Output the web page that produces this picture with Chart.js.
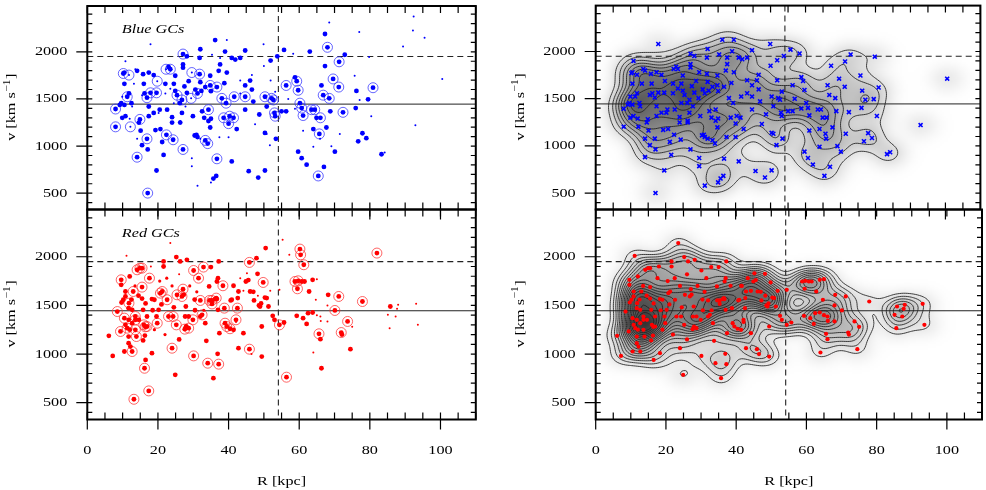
<!DOCTYPE html>
<html>
<head>
<meta charset="utf-8">
<title>GC velocities</title>
<script src="https://cdn.jsdelivr.net/npm/chart.js@4.4.1/dist/chart.umd.min.js"></script>
<style>
html, body { margin: 0; padding: 0; background: #fff; }
#wrap { position: relative; width: 986px; height: 490px; overflow: hidden; }
#wrap canvas { position: absolute; left: 0; top: 0; }
</style>
</head>
<body>
<div id="wrap">
  <canvas id="cTL" width="986" height="490"></canvas>
  <canvas id="cBL" width="986" height="490"></canvas>
  <canvas id="cTR" width="986" height="490"></canvas>
  <canvas id="cBR" width="986" height="490"></canvas>
</div>
<script>
/* axis ranges and tick labels */
var rRange = [0, 110];
var vRange = [327, 2486];
var rTickLabels = [0, 20, 40, 60, 80, 100];
var vTickLabels = [500, 1000, 1500, 2000];

/* reference values: systemic velocity, high-velocity cut, radius cut */
var vSys = 1445;
var vCut = 1950;
var rCut = 54.1;

/* Blue GCs: radius [kpc], velocity [km/s], quality class (1 tiny .. 4 ringed, 5 ringed faint) */
var blueR = [
    8.0, 8.0, 9.6, 9.2, 10.2, 10.5, 9.9, 10.8, 10.5, 11.8,
    11.3, 11.8, 10.5, 10.8, 12.2, 12.0, 12.5, 13.6, 14.1, 14.9,
    14.6, 14.1, 15.1, 15.5, 15.8, 16.0, 16.2, 16.9, 17.9, 17.4,
    16.9, 17.1, 17.1, 17.4, 17.4, 17.9, 18.8, 18.8, 19.3, 19.6,
    19.8, 19.6, 20.5, 20.7, 21.2, 21.6, 22.1, 22.3, 22.4, 23.0,
    23.5, 22.6, 24.0, 24.0, 24.3, 24.9, 25.4, 26.8, 27.1, 27.1,
    27.1, 26.8, 26.3, 28.2, 28.7, 29.6, 29.4, 29.9, 30.9, 31.2,
    31.8, 31.2, 32.0, 31.8, 32.5, 33.1, 33.4, 34.1, 34.3, 34.8,
    34.8, 35.0, 35.7, 36.2, 36.5, 36.7, 36.7, 37.2, 37.6, 38.1,
    38.6, 38.8, 39.0, 39.3, 39.5, 40.0, 40.3, 40.9, 40.9, 41.4,
    41.6, 41.9, 43.3, 44.7, 44.7, 44.7, 44.7, 45.7, 46.1, 47.0,
    46.6, 48.4, 48.7, 50.3, 50.3, 50.3, 50.8, 51.9, 52.2, 52.7,
    53.0, 53.2, 53.4, 53.8, 55.0, 55.7, 56.3, 56.3, 58.8, 59.3,
    59.7, 60.2, 60.7, 61.1, 59.7, 60.7, 62.1, 63.0, 63.5, 64.4,
    64.0, 64.9, 65.4, 65.7, 66.0, 66.3, 66.8, 67.3, 67.0, 67.3,
    68.0, 67.7, 68.5, 68.8, 69.6, 70.1, 71.3, 71.2, 72.9, 72.4,
    76.2, 76.0, 76.7, 77.9, 79.5, 79.0, 80.9, 83.3, 84.2, 89.4,
    92.2, 92.4, 95.5, 92.9, 100.5, 68.5, 77.0, 79.8, 75.7, 77.1,
    80.4, 71.5, 69.1, 65.9, 64.0, 61.1, 58.8, 56.9, 58.3, 49.9,
    50.0, 51.9, 53.2, 47.5, 51.7, 50.8, 43.3, 46.6, 40.0, 37.4,
    43.3, 39.5, 37.6, 35.3, 32.0, 29.6, 29.6, 27.8, 26.3, 24.5,
    23.5, 22.1, 20.2, 15.5, 14.1, 13.2, 12.7, 9.9, 24.5, 24.9,
    27.1, 27.5, 28.2, 26.2, 30.6, 32.0, 32.3, 33.4, 35.0, 34.3,
    34.8, 42.3, 30.4, 31.2, 35.0
];
var blueV = [
    1393, 1204, 1455, 1437, 1770, 1780, 1300, 1317, 1660, 1753,
    1523, 1558, 1437, 1900, 1204, 1290, 1455, 1815, 1798, 1283,
    1249, 882, 1163, 1009, 1763, 1660, 1558, 1513, 1565, 1780,
    1077, 964, 501, 1317, 1420, 2079, 1753, 1352, 1170, 741,
    1688, 1565, 1386, 1180, 1043, 906, 1660, 1815, 1119, 1839,
    1815, 1386, 1249, 1307, 1067, 1746, 1540, 1489, 1866, 1976,
    964, 1352, 1249, 1952, 1688, 1780, 1506, 1317, 1119, 1558,
    1763, 580, 2027, 1935, 1369, 1300, 1060, 1026, 1386, 1746,
    1643, 614, 655, 2124, 683, 865, 1626, 1798, 1866, 1506,
    1300, 1667, 2003, 1455, 1780, 1238, 1317, 837, 1935, 1300,
    1523, 1918, 1935, 1523, 1643, 2014, 1386, 734, 1695, 1472,
    1599, 666, 1335, 1523, 1139, 741, 1420, 1907, 1506, 1489,
    1352, 1317, 1077, 1952, 1369, 2020, 1369, 1643, 1729, 1688,
    1592, 1455, 1403, 1324, 940, 872, 803, 2003, 1386, 1386,
    1180, 1300, 683, 1129, 1300, 1643, 1540, 1849, 779, 2189,
    2048, 1197, 1506, 1369, 1712, 940, 1894, 1626, 1969, 1358,
    1585, 1403, 1050, 1136, 1496, 1084, 1619, 913, 933, 2055,
    2226, 2374, 2148, 1221, 1712, 2312, 2209, 1945, 1746, 1489,
    1317, 1129, 998, 1077, 992, 1163, 1396, 1499, 1979, 2079,
    1849, 1695, 1575, 1232, 1009, 1129, 1558, 1753, 1094, 1094,
    1695, 2124, 1935, 1969, 1077, 786, 872, 1420, 1266, 1455,
    1609, 1558, 1352, 1540, 1077, 1660, 1420, 1523, 1660, 1585,
    1832, 1633, 1565, 1455, 1599, 1678, 1585, 1626, 1582, 1266,
    1197, 1180, 1112, 1095, 1290
];
var blueQ = [
    4, 4, 3, 3, 4, 3, 3, 3, 3, 5,
    4, 3, 3, 1, 5, 1, 3, 1, 3, 4,
    3, 4, 3, 3, 3, 3, 3, 4, 4, 3,
    4, 3, 4, 3, 3, 1, 3, 3, 3, 3,
    5, 4, 3, 3, 3, 3, 3, 5, 4, 3,
    4, 3, 3, 3, 4, 3, 4, 4, 3, 4,
    4, 3, 3, 3, 3, 5, 5, 3, 3, 4,
    4, 1, 3, 3, 3, 3, 4, 4, 4, 3,
    4, 1, 3, 3, 3, 4, 4, 3, 3, 4,
    4, 3, 3, 4, 3, 4, 4, 3, 3, 4,
    4, 3, 3, 4, 3, 3, 3, 3, 3, 3,
    3, 3, 3, 4, 3, 3, 3, 3, 4, 4,
    4, 4, 3, 3, 3, 3, 3, 4, 3, 4,
    4, 4, 4, 4, 3, 3, 3, 3, 4, 4,
    3, 3, 4, 4, 4, 3, 4, 3, 3, 3,
    4, 3, 4, 3, 4, 3, 4, 4, 3, 4,
    3, 3, 3, 3, 3, 3, 4, 3, 1, 1,
    1, 1, 1, 1, 1, 1, 1, 1, 1, 1,
    1, 1, 1, 1, 1, 1, 1, 1, 1, 1,
    1, 1, 1, 1, 1, 1, 1, 1, 1, 1,
    1, 1, 1, 1, 1, 1, 1, 1, 1, 1,
    1, 1, 1, 1, 1, 1, 1, 1, 3, 3,
    3, 3, 3, 3, 3, 3, 3, 3, 3, 3,
    3, 3, 3, 3, 3
];
/* blue objects left out of the clean sample (right panel) */
var blueRejected = [137, 149, 150, 169, 170, 171, 172, 175, 176];

/* Red GCs */
var redR = [
    6.1, 7.2, 8.5, 9.4, 9.6, 9.6, 10.2, 10.5, 10.8, 10.5,
    11.1, 11.3, 11.8, 12.0, 12.2, 12.7, 13.0, 13.2, 13.6, 13.6,
    14.1, 14.9, 15.5, 15.5, 15.8, 16.0, 16.2, 16.5, 16.9, 17.4,
    17.6, 18.3, 19.0, 19.8, 20.2, 20.7, 21.2, 21.6, 21.6, 22.6,
    23.0, 23.5, 24.0, 24.3, 24.9, 25.2, 25.4, 25.2, 26.3, 26.8,
    27.1, 27.6, 28.2, 28.7, 30.1, 30.1, 29.9, 31.5, 32.0, 32.5,
    32.9, 33.7, 34.1, 34.6, 35.0, 35.7, 36.5, 36.7, 36.9, 37.2,
    37.2, 37.4, 38.4, 38.8, 39.0, 39.5, 40.6, 41.4, 42.1, 42.5,
    42.8, 42.8, 44.2, 44.9, 45.9, 45.9, 46.1, 47.2, 48.2, 48.9,
    49.4, 49.8, 47.9, 49.4, 50.5, 50.8, 51.3, 52.5, 53.0, 54.4,
    55.7, 55.3, 56.4, 57.2, 58.8, 59.5, 59.7, 59.3, 60.2, 60.4,
    61.3, 60.7, 61.1, 62.1, 62.8, 62.5, 63.8, 63.8, 65.6, 66.0,
    66.3, 68.2, 70.1, 71.2, 71.9, 72.1, 73.7, 74.5, 77.9, 82.0,
    85.8, 85.1, 85.6, 88.0, 87.7, 87.3, 93.1, 93.6, 68.0, 64.7,
    64.0, 68.0, 66.0, 65.0, 75.0, 54.4, 51.8, 48.3, 46.5, 45.2,
    44.2, 43.3, 41.6, 42.1, 10.8, 9.7, 11.7, 12.7, 13.6, 12.0,
    16.4, 11.7, 14.6, 16.9, 10.8, 12.7, 11.7, 13.9, 15.8, 16.3,
    11.7, 15.5, 16.5, 18.3, 19.6, 21.0, 27.3, 27.9, 27.7, 28.0,
    28.7, 30.4, 32.0, 33.4, 34.5, 35.3, 35.3, 36.2, 36.7, 37.0,
    37.0, 40.4, 41.4, 40.9, 42.6, 45.6, 47.0, 48.6, 49.2, 50.3,
    61.5, 65.0, 66.1, 13.5, 18.0, 20.5, 22.5, 24.0, 26.0, 29.0,
    31.0, 33.0, 19.0, 22.0, 26.0, 24.5, 18.5, 14.5, 12.5, 30.5
];
var redV = [
    1187, 981, 1437, 1232, 1763, 1712, 1558, 1369, 1643, 1026,
    2010, 1266, 1523, 1798, 1077, 1026, 1643, 535, 1352, 1249,
    1866, 1883, 1883, 1688, 1455, 1300, 854, 940, 1283, 621,
    1780, 1009, 1558, 1317, 1455, 1626, 1643, 1900, 1952, 1558,
    1386, 2141, 1060, 1386, 786, 1300, 1609, 1997, 1952, 1592,
    1667, 1256, 1969, 1266, 1859, 981, 1352, 1780, 1551, 1403,
    1894, 1136, 906, 1551, 1894, 752, 1575, 1746, 1002, 896,
    1952, 1215, 1702, 1472, 1317, 1283, 1551, 1249, 1352, 1472,
    1643, 1060, 1215, 1746, 1942, 1050, 1643, 1551, 1825, 1489,
    974, 1736, 1986, 1283, 2089, 1575, 1489, 1393, 1352, 1300,
    1324, 2175, 762, 2020, 1746, 1671, 1753, 1393, 2079, 2020,
    1918, 1746, 1369, 1310, 1643, 1420, 1763, 1427, 1208, 1153,
    854, 1609, 1448, 1592, 1221, 1200, 1335, 1050, 1540, 2038,
    1489, 1403, 1266, 1506, 1465, 1386, 1516, 1300, 1500, 1558,
    1016, 1335, 1386, 1770, 1280, 1660, 1650, 1600, 1000, 1830,
    1650, 1780, 1700, 1330, 1592, 1530, 1472, 1455, 1386, 1250,
    1280, 1352, 1352, 1386, 1300, 1317, 1180, 1180, 1140, 1190,
    1112, 1570, 1520, 1565, 1386, 1510, 1610, 1489, 1386, 1283,
    1386, 1560, 1386, 1317, 1695, 1551, 1515, 1565, 1565, 1455,
    1780, 1260, 1702, 1558, 1575, 1760, 1640, 1500, 1520, 1580,
    1746, 1400, 1340, 1700, 1900, 1750, 1780, 1700, 1820, 1700,
    1640, 1450, 1250, 1200, 1150, 1480, 1450, 1600, 1560, 1450
];
var redQ = [
    3, 3, 4, 4, 4, 3, 3, 4, 3, 3,
    1, 4, 4, 3, 3, 4, 4, 4, 4, 4,
    4, 4, 4, 4, 3, 4, 4, 3, 4, 4,
    4, 3, 3, 4, 3, 4, 4, 3, 3, 4,
    4, 1, 4, 4, 3, 4, 4, 3, 3, 4,
    4, 4, 3, 4, 4, 4, 4, 4, 4, 4,
    4, 3, 4, 4, 3, 3, 4, 3, 3, 4,
    3, 3, 4, 4, 4, 4, 3, 3, 4, 4,
    3, 3, 3, 3, 4, 4, 3, 3, 3, 3,
    3, 4, 3, 3, 3, 3, 3, 3, 3, 4,
    3, 1, 4, 1, 4, 4, 4, 3, 4, 4,
    4, 3, 3, 3, 3, 3, 3, 3, 4, 3,
    3, 3, 4, 4, 4, 3, 4, 3, 4, 4,
    3, 1, 1, 1, 1, 1, 1, 1, 1, 1,
    1, 1, 1, 1, 1, 1, 1, 1, 1, 1,
    1, 1, 1, 1, 3, 3, 3, 3, 4, 3,
    4, 3, 3, 3, 3, 3, 3, 4, 3, 3,
    3, 3, 3, 3, 3, 3, 3, 3, 3, 3,
    3, 3, 3, 3, 3, 4, 4, 3, 3, 3,
    3, 4, 3, 3, 3, 3, 3, 3, 3, 3,
    3, 1, 1, 2, 1, 2, 2, 2, 1, 2,
    2, 2, 2, 2, 3, 3, 3, 3, 3, 3
];
/* red objects left out of the clean sample (right panel) */
var redRejected = [17, 26, 29, 84, 92, 94, 101, 102, 103, 108, 109, 110, 120, 129];

/* look */
var FONT = '"Liberation Serif", "Times New Roman", Times, serif';
var TEXT_SX = 1.2;
var dotSize = { 1: 1.0, 2: 1.6, 3: 2.4, 4: 2.4, 5: 1.0 };

var series = {
    blue: { r: blueR, v: blueV, q: blueQ, out: blueRejected, color: '#0000ff', ring: 'rgba(50,50,255,0.75)',
            bw: [3.4, 100], levels: [0.14, 0.24, 0.34, 0.44, 0.54, 0.64, 0.74, 0.84], shade: 0.7, label: 'Blue GCs' },
    red:  { r: redR, v: redV, q: redQ, out: redRejected, color: '#ff0000', ring: 'rgba(255,50,50,0.75)',
            bw: [3.2, 88], levels: [0.08, 0.131, 0.182, 0.233, 0.284, 0.335, 0.386, 0.437, 0.488, 0.539, 0.59, 0.641, 0.692, 0.743, 0.794, 0.845, 0.896],
            shade: 0.8, label: 'Red GCs' }
};

/* panel placement in the 986x490 window */
var panels = {
    cTL: { s: 'blue', kind: 'dots',    bottomLabels: false, pad: { left: 87.3,  top: 0,     right: 510.2, bottom: 280.5 } },
    cBL: { s: 'red',  kind: 'dots',    bottomLabels: true,  pad: { left: 87.3,  top: 209.5, right: 510.2, bottom: 70.5 } },
    cTR: { s: 'blue', kind: 'density', bottomLabels: false, pad: { left: 595.7, top: 0,     right: 1.7,   bottom: 280.5 } },
    cBR: { s: 'red',  kind: 'density', bottomLabels: true,  pad: { left: 595.7, top: 209.5, right: 1.7,   bottom: 70.5 } }
};

/* points of the clean sample */
function cleanPoints(s) {
    var pts = [];
    for (var i = 0; i < s.r.length; i++) {
        if (s.out.indexOf(i) < 0) pts.push({ x: s.r[i], y: s.v[i] });
    }
    return pts;
}

/* marching squares segments, edges: 0 top, 1 right, 2 bottom, 3 left */
var CASES = {
    1: [[3, 2]], 2: [[2, 1]], 3: [[3, 1]], 4: [[0, 1]], 5: [[3, 2], [0, 1]], 6: [[0, 2]], 7: [[3, 0]],
    8: [[3, 0]], 9: [[0, 2]], 10: [[3, 0], [2, 1]], 11: [[0, 1]], 12: [[3, 1]], 13: [[2, 1]], 14: [[3, 2]]
};

function edgePoint(e, i, j, a, b, c, d, L) {
    if (e === 0) return [i + (L - a) / (b - a), j];
    if (e === 1) return [i + 1, j + (L - b) / (c - b)];
    if (e === 2) return [i + (L - d) / (c - d), j + 1];
    return [i, j + (L - a) / (d - a)];
}

/* id of a cell edge shared by neighbouring cells */
function edgeKey(e, i, j, nx) {
    if (e === 0) return (j * nx + i) * 2;
    if (e === 2) return ((j + 1) * nx + i) * 2;
    if (e === 3) return (j * nx + i) * 2 + 1;
    return (j * nx + i + 1) * 2 + 1;
}

/* one contour level, chained into polylines */
function traceLevel(ctx, g, nx, ny, L, ox, oy, step) {
    var pts = new Map(), adj = new Map();
    function link(k1, k2) {
        if (!adj.has(k1)) adj.set(k1, []);
        adj.get(k1).push(k2);
    }
    for (var j = 0; j < ny - 1; j++) {
        for (var i = 0; i < nx - 1; i++) {
            var va = g[j * nx + i], vb = g[j * nx + i + 1], vc = g[(j + 1) * nx + i + 1], vd = g[(j + 1) * nx + i];
            var c = (va > L ? 8 : 0) | (vb > L ? 4 : 0) | (vc > L ? 2 : 0) | (vd > L ? 1 : 0);
            if (c === 0 || c === 15) continue;
            var segs = CASES[c];
            for (var q = 0; q < segs.length; q++) {
                var e1 = segs[q][0], e2 = segs[q][1];
                var k1 = edgeKey(e1, i, j, nx), k2 = edgeKey(e2, i, j, nx);
                pts.set(k1, edgePoint(e1, i, j, va, vb, vc, vd, L));
                pts.set(k2, edgePoint(e2, i, j, va, vb, vc, vd, L));
                link(k1, k2);
                link(k2, k1);
            }
        }
    }
    function walk(start) {
        var cur = start, p = pts.get(cur);
        ctx.moveTo(ox + p[0] * step, oy + p[1] * step);
        while (adj.get(cur).length) {
            var next = adj.get(cur).pop();
            var back = adj.get(next), idx = back.indexOf(cur);
            if (idx >= 0) back.splice(idx, 1);
            p = pts.get(next);
            ctx.lineTo(ox + p[0] * step, oy + p[1] * step);
            cur = next;
        }
    }
    adj.forEach(function (list, k) { if (list.length === 1) walk(k); });
    adj.forEach(function (list, k) { if (list.length) walk(k); });
}

/* Gaussian density on a pixel grid, shading and contours */
function drawDensity(chart, s) {
    var ctx = chart.ctx, a = chart.chartArea, xs = chart.scales.x, ys = chart.scales.y;
    var step = 2;
    var nx = Math.ceil((a.right - a.left) / step) + 1;
    var ny = Math.ceil((a.bottom - a.top) / step) + 1;
    var g = new Float32Array(nx * ny);
    var sx = s.bw[0] * Math.abs(xs.getPixelForValue(1) - xs.getPixelForValue(0));
    var sy = s.bw[1] * Math.abs(ys.getPixelForValue(0) - ys.getPixelForValue(1));
    var sample = cleanPoints(s);
    for (var p = 0; p < sample.length; p++) {
        var px = xs.getPixelForValue(sample[p].x) - a.left;
        var py = ys.getPixelForValue(sample[p].y) - a.top;
        var i0 = Math.max(0, Math.floor((px - 4 * sx) / step)), i1 = Math.min(nx - 1, Math.ceil((px + 4 * sx) / step));
        var j0 = Math.max(0, Math.floor((py - 4 * sy) / step)), j1 = Math.min(ny - 1, Math.ceil((py + 4 * sy) / step));
        for (var j = j0; j <= j1; j++) {
            var dy = (j * step - py) / sy;
            var ey = Math.exp(-0.5 * dy * dy);
            for (var i = i0; i <= i1; i++) {
                var dx = (i * step - px) / sx;
                g[j * nx + i] += ey * Math.exp(-0.5 * dx * dx);
            }
        }
    }
    var max = 0;
    for (var k = 0; k < g.length; k++) if (g[k] > max) max = g[k];

    /* gray shading */
    var off = document.createElement('canvas');
    off.width = nx; off.height = ny;
    var octx = off.getContext('2d');
    var img = octx.createImageData(nx, ny);
    for (k = 0; k < g.length; k++) {
        img.data[4 * k + 3] = Math.round(255 * s.shade * Math.pow(g[k] / max, 0.9));
    }
    octx.putImageData(img, 0, 0);
    ctx.save();
    ctx.beginPath();
    ctx.rect(a.left, a.top, a.right - a.left, a.bottom - a.top);
    ctx.clip();
    ctx.imageSmoothingEnabled = true;
    ctx.drawImage(off, a.left - step / 2, a.top - step / 2, nx * step, ny * step);

    /* contours */
    ctx.strokeStyle = '#1e1e1e';
    ctx.lineWidth = 0.85;
    ctx.lineJoin = 'round';
    ctx.beginPath();
    s.levels.forEach(function (f) {
        traceLevel(ctx, g, nx, ny, f * max, a.left, a.top, step);
    });
    ctx.stroke();
    ctx.restore();
}

/* text stretched along its baseline */
function wideText(ctx, text, x, y, align, font) {
    ctx.save();
    ctx.font = font;
    ctx.translate(x, y);
    ctx.scale(TEXT_SX, 1);
    ctx.textAlign = align;
    ctx.textBaseline = 'middle';
    ctx.fillStyle = '#000';
    ctx.fillText(text, 0, 0);
    ctx.restore();
}

function drawYTitle(ctx, cx, cy) {
    var main = '13.5px ' + FONT, sup = '9.5px ' + FONT;
    ctx.save();
    ctx.translate(cx, cy);
    ctx.rotate(-Math.PI / 2);
    ctx.scale(TEXT_SX, 1);
    ctx.fillStyle = '#000';
    ctx.textBaseline = 'middle';
    ctx.textAlign = 'left';
    ctx.font = main;
    var w1 = ctx.measureText('v [km s').width, w3 = ctx.measureText(']').width;
    ctx.font = sup;
    var w2 = ctx.measureText('\u22121').width;
    var x0 = -(w1 + w2 + w3) / 2;
    ctx.font = main;
    ctx.fillText('v [km s', x0, 0);
    ctx.font = sup;
    ctx.fillText('\u22121', x0 + w1 + 0.5, -4.5);
    ctx.font = main;
    ctx.fillText(']', x0 + w1 + w2 + 1, 0);
    ctx.restore();
}

var panelPlugin = {
    id: 'panelDecor',
    beforeDatasetsDraw: function (chart) {
        var conf = panels[chart.canvas.id], s = series[conf.s];
        var ctx = chart.ctx, a = chart.chartArea, xs = chart.scales.x, ys = chart.scales.y;
        if (conf.kind === 'density') drawDensity(chart, s);
        /* reference lines */
        ctx.save();
        ctx.strokeStyle = '#222';
        ctx.lineWidth = 1;
        var yS = ys.getPixelForValue(vSys), yC = ys.getPixelForValue(vCut), xC = xs.getPixelForValue(rCut);
        ctx.beginPath();
        ctx.moveTo(a.left, yS); ctx.lineTo(a.right, yS);
        ctx.stroke();
        ctx.setLineDash([6, 4]);
        ctx.lineWidth = 1.1;
        ctx.beginPath();
        ctx.moveTo(a.left, yC); ctx.lineTo(a.right, yC);
        ctx.moveTo(xC, a.top); ctx.lineTo(xC, a.bottom);
        ctx.stroke();
        ctx.restore();
    },
    afterDraw: function (chart) {
        var conf = panels[chart.canvas.id], s = series[conf.s];
        var ctx = chart.ctx, a = chart.chartArea, xs = chart.scales.x, ys = chart.scales.y;
        var font = '13.5px ' + FONT;
        ctx.save();
        ctx.strokeStyle = '#000';
        ctx.lineWidth = 1.2;
        ctx.beginPath();
        for (var r = rRange[0]; r <= rRange[1]; r += 5) {
            var px = xs.getPixelForValue(r);
            ctx.moveTo(px, a.bottom); ctx.lineTo(px, a.bottom - 7);
            ctx.moveTo(px, a.top); ctx.lineTo(px, a.top + 7);
            if (r % 20 === 0) { ctx.moveTo(px, a.bottom); ctx.lineTo(px, a.bottom + 10); }
        }
        for (var v = 400; v <= 2400; v += 100) {
            var py = ys.getPixelForValue(v);
            ctx.moveTo(a.left, py); ctx.lineTo(a.left + 5, py);
            ctx.moveTo(a.right, py); ctx.lineTo(a.right - 5, py);
            if (v % 500 === 0) { ctx.moveTo(a.left - 11, py); ctx.lineTo(a.left, py); }
        }
        ctx.stroke();
        ctx.lineWidth = 2;
        ctx.strokeRect(a.left, a.top, a.right - a.left, a.bottom - a.top);
        ctx.restore();

        vTickLabels.forEach(function (v) {
            wideText(ctx, String(v), a.left - 20, ys.getPixelForValue(v), 'right', font);
        });
        if (conf.bottomLabels) {
            rTickLabels.forEach(function (r) {
                wideText(ctx, String(r), xs.getPixelForValue(r), a.bottom + 31, 'center', font);
            });
            wideText(ctx, 'R [kpc]', (a.left + a.right) / 2, a.bottom + 62, 'center', font);
        }
        drawYTitle(ctx, a.left - 75.5, (a.top + a.bottom) / 2);
        if (conf.kind === 'dots') {
            ctx.save();
            ctx.font = 'italic 13.5px ' + FONT;
            ctx.translate(a.left + 34.5, a.top + 23.5);
            ctx.scale(TEXT_SX, 1);
            ctx.textAlign = 'left';
            ctx.textBaseline = 'middle';
            ctx.fillStyle = '#000';
            ctx.fillText(s.label, 0, 0);
            ctx.restore();
        }
    }
};

function buildDatasets(conf) {
    var s = series[conf.s];
    if (conf.kind === 'density') {
        var clean = cleanPoints(s);
        if (conf.s === 'blue') {
            return [{ data: clean, pointStyle: 'crossRot', pointRadius: 2.8, pointBorderWidth: 1.6,
                      pointBorderColor: s.color, pointBackgroundColor: s.color }];
        }
        return [{ data: clean, pointStyle: 'circle', pointRadius: 2.1, pointBorderWidth: 0,
                  pointBackgroundColor: s.color }];
    }
    var pts = s.r.map(function (r, i) { return { x: r, y: s.v[i] }; });
    var ringed = pts.filter(function (p, i) { return s.q[i] >= 4; });
    return [
        { data: pts, pointStyle: 'circle', pointBorderWidth: 0, pointBackgroundColor: s.color,
          pointRadius: function (c) { return dotSize[s.q[c.dataIndex]]; } },
        { data: ringed, pointStyle: 'circle', pointRadius: 5, pointBorderWidth: 1,
          pointBorderColor: s.ring, pointBackgroundColor: 'rgba(0,0,0,0)' }
    ];
}

Object.keys(panels).forEach(function (id) {
    var conf = panels[id];
    new Chart(document.getElementById(id), {
        type: 'scatter',
        data: { datasets: buildDatasets(conf) },
        options: {
            responsive: false,
            animation: false,
            events: [],
            layout: { padding: conf.pad },
            plugins: { legend: { display: false }, tooltip: { enabled: false }, title: { display: false } },
            scales: {
                x: { type: 'linear', min: rRange[0], max: rRange[1], display: false },
                y: { type: 'linear', min: vRange[0], max: vRange[1], display: false }
            }
        },
        plugins: [panelPlugin]
    });
});
</script>
</body>
</html>
